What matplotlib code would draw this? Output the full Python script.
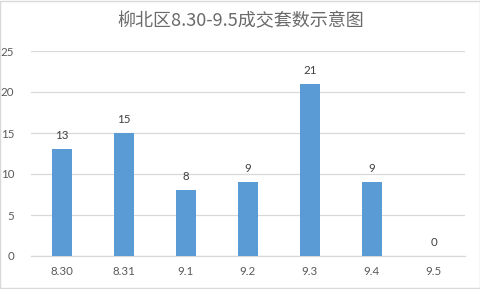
import matplotlib
matplotlib.use("Agg")
from matplotlib import pyplot as plt
from matplotlib.patches import Rectangle

plt.rcParams['font.family'] = ['Lato', 'Noto Sans CJK SC', 'DejaVu Sans']

# data
dates = ['8.30', '8.31', '9.1', '9.2', '9.3', '9.4', '9.5']
counts = [13, 15, 8, 9, 21, 9, 0]
yticks = [0, 5, 10, 15, 20, 25]

text_col = '#595959'
grid_col = '#d9d9d9'
bar_col = '#5b9bd5'

fig = plt.figure(figsize=(4.81, 2.89), dpi=100)
ax = fig.add_axes([31/481, 1 - 256/289, 434/481, 205/289])

x = range(len(dates))
ax.bar(x, counts, width=0.32, color=bar_col, zorder=3)
for i, v in zip(x, counts):
    ax.text(i, v + 1.0, str(v), ha='center', va='bottom', fontsize=8.3, color='#404040')

ax.set_xlim(-0.5, len(dates) - 0.5)
ax.set_ylim(0, 25)
ax.set_yticks(yticks)
ax.set_xticks(list(x))
ax.set_xticklabels(dates)
ax.yaxis.grid(True, color=grid_col, linewidth=0.9, zorder=0)
ax.tick_params(axis='both', length=0, labelsize=8.3, labelcolor=text_col)
ax.tick_params(axis='x', pad=7)
ax.tick_params(axis='y', pad=12)
for s in ['top', 'right', 'left']:
    ax.spines[s].set_visible(False)
ax.spines['bottom'].set_color(grid_col)
ax.spines['bottom'].set_linewidth(0.9)

fig.text(0.5, 1 - 21/289, '柳北区8.30-9.5成交套数示意图', ha='center', va='center',
         fontsize=13, color='#6a6a6a', family=['Noto Sans CJK SC', 'DejaVu Sans'])

fig.patches.append(Rectangle((0.001, 0.002), 0.997, 0.995, transform=fig.transFigure,
                             fill=False, edgecolor='#d9d9d9', linewidth=1))

fig.savefig('out.png', dpi=100)
